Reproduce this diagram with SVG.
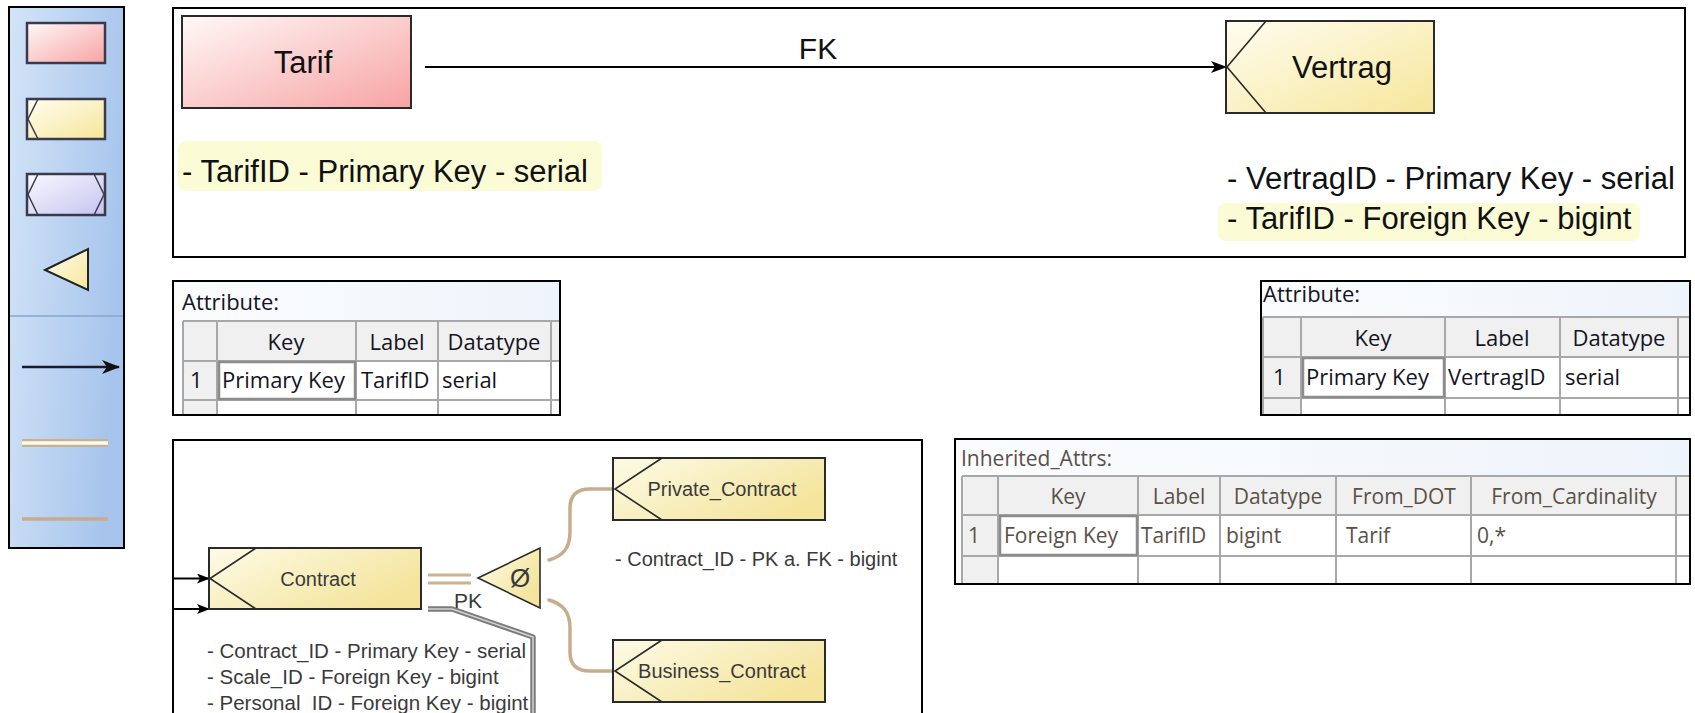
<svg xmlns="http://www.w3.org/2000/svg" width="1695" height="713" viewBox="0 0 1695 713">
<defs>
<style>
.dg{font-family:"Liberation Sans",Arial,sans-serif;fill:#111}
.lo{font-family:"Liberation Sans",Arial,sans-serif;fill:#3a3a3a}
.tb{font-family:"Open Sans","Noto Sans",sans-serif;font-size:22px;fill:#141424}
.tbi{font-family:"Open Sans","Noto Sans",sans-serif;font-size:21px;fill:#5a5048}
.frame{fill:#fff;stroke:#000;stroke-width:2}
.ent{stroke:#2a2a2a;stroke-width:2}
.chev{fill:none;stroke:#2a2a2a;stroke-width:1.6}
.grid{stroke:#a8a8a8;stroke-width:2;fill:none}
.hdr{fill:#f0f0f0}
.tan{fill:none;stroke:#c8ad8c;stroke-width:3.5;stroke-linecap:round}
</style>
<linearGradient id="gPal" x1="0" y1="0" x2="1" y2="0.3"><stop offset="0" stop-color="#d3e4f8"/><stop offset="1" stop-color="#a7c5ec"/></linearGradient>
<linearGradient id="gRed" x1="0" y1="0" x2="1" y2="1"><stop offset="0" stop-color="#fff8f8"/><stop offset="1" stop-color="#f7a3a3"/></linearGradient>
<linearGradient id="gYel" x1="0" y1="0" x2="1" y2="1"><stop offset="0" stop-color="#fffdf0"/><stop offset="1" stop-color="#f6e69a"/></linearGradient>
<linearGradient id="gYel2" x1="0" y1="0" x2="1" y2="0.6"><stop offset="0" stop-color="#fdfbe6"/><stop offset="1" stop-color="#f4e49c"/></linearGradient>
<linearGradient id="gPur" x1="0" y1="0" x2="1" y2="1"><stop offset="0" stop-color="#faf8ff"/><stop offset="1" stop-color="#c4c4f0"/></linearGradient>
<linearGradient id="gTitle" x1="0" y1="0" x2="1" y2="0"><stop offset="0" stop-color="#fbfcfe"/><stop offset="1" stop-color="#eef4fb"/></linearGradient>
<marker id="arrBig" viewBox="0 0 16 12" refX="15" refY="6" markerWidth="16" markerHeight="12" markerUnits="userSpaceOnUse" orient="auto"><path d="M0,0 L16,6 L0,12 L4,6 z" fill="#000"/></marker>
<marker id="arrSm" viewBox="0 0 13 10" refX="12" refY="5" markerWidth="13" markerHeight="10" markerUnits="userSpaceOnUse" orient="auto"><path d="M0,0 L13,5 L0,10 L3,5 z" fill="#000"/></marker>
<marker id="arrPal" viewBox="0 0 18 14" refX="17" refY="7" markerWidth="18" markerHeight="14" markerUnits="userSpaceOnUse" orient="auto"><path d="M0,0 L18,7 L0,14 L5,7 z" fill="#111"/></marker>
</defs>
<rect width="1695" height="713" fill="#fff"/>

<!-- Palette -->
<g id="palette">
<rect x="9" y="7" width="115" height="541" fill="url(#gPal)" stroke="#000" stroke-width="2"/>
<rect x="27" y="23" width="78" height="40" fill="url(#gRed)" stroke="#3a3a4a" stroke-width="2.5"/>
<rect x="27" y="99" width="78" height="40" fill="url(#gYel)" stroke="#3a3a4a" stroke-width="2.5"/>
<path d="M38,99 L28,119 L38,139" fill="none" stroke="#3a3a4a" stroke-width="1.5"/>
<rect x="27" y="174" width="78" height="41" fill="url(#gPur)" stroke="#3a3a4a" stroke-width="2.5"/>
<path d="M38,174 L28,194.5 L38,215 M94,174 L104,194.5 L94,215" fill="none" stroke="#3a3a4a" stroke-width="1.5"/>
<polygon points="45,270 88,249 88,290" fill="url(#gYel)" stroke="#222" stroke-width="2"/>
<line x1="10" y1="316" x2="123" y2="316" stroke="#86a6cc" stroke-width="1.5"/>
<line x1="22" y1="367" x2="119" y2="367" stroke="#1a1a2a" stroke-width="2.5" marker-end="url(#arrPal)"/>
<line x1="22" y1="443" x2="108" y2="443" stroke="#c9b08f" stroke-width="8"/>
<line x1="22" y1="443" x2="108" y2="443" stroke="#fffbee" stroke-width="3.5"/>
<line x1="22" y1="519" x2="108" y2="519" stroke="#c9ab88" stroke-width="3.5"/>
</g>

<!-- Top diagram -->
<g id="frame-top"><rect class="frame" x="173" y="8" width="1512" height="249"/></g>
<g id="connectors-top">
<line x1="425" y1="67" x2="1226" y2="67" stroke="#000" stroke-width="2" marker-end="url(#arrBig)"/>
<text class="dg" x="818" y="59" font-size="30" text-anchor="middle">FK</text>
</g>
<g id="node-tarif">
<rect class="ent" x="182" y="16" width="229" height="92" fill="url(#gRed)"/>
<text class="dg" x="303" y="73" font-size="31" text-anchor="middle">Tarif</text>
<rect x="178" y="141" width="424" height="50" rx="8" fill="#fbfbd6"/>
<text class="dg" x="182" y="182" font-size="31">- TarifID - Primary Key - serial</text>
</g>
<g id="node-vertrag">
<rect class="ent" x="1226" y="21" width="208" height="92" fill="url(#gYel)"/>
<path class="chev" d="M1266,21 L1227,67 L1266,113"/>
<text class="dg" x="1342" y="78" font-size="31" text-anchor="middle">Vertrag</text>
<text class="dg" x="1227" y="189" font-size="31">- VertragID - Primary Key - serial</text>
<rect x="1218" y="203" width="422" height="38" rx="8" fill="#fbfbd6"/>
<text class="dg" x="1227" y="229" font-size="31">- TarifID - Foreign Key - bigint</text>
</g>

<!-- Attribute table left -->
<g id="table-tarif">
<rect x="173" y="281" width="387" height="134" fill="url(#gTitle)" stroke="#000" stroke-width="2"/>
<text class="tb" x="182" y="310">Attribute:</text>
<rect x="183" y="321" width="376" height="93" fill="#fff"/>
<rect class="hdr" x="183" y="321" width="376" height="40"/>
<rect class="hdr" x="183" y="361" width="34" height="53"/>
<path class="grid" d="M183,321 H559 M183,361 H559 M183,400 H559 M183,321 V414 M217,321 V414 M356,321 V414 M438,321 V414 M551,321 V414"/>
<rect x="219" y="362" width="136" height="37" fill="none" stroke="#8c8c8c" stroke-width="2.5"/>
<text class="tb" x="286" y="350" text-anchor="middle">Key</text>
<text class="tb" x="397" y="350" text-anchor="middle">Label</text>
<text class="tb" x="494" y="350" text-anchor="middle">Datatype</text>
<text class="tb" x="190" y="388">1</text>
<text class="tb" x="222" y="388">Primary Key</text>
<text class="tb" x="361" y="388">TarifID</text>
<text class="tb" x="442" y="388">serial</text>
</g>

<!-- Attribute table right -->
<g id="table-vertrag">
<rect x="1261" y="281" width="429" height="134" fill="url(#gTitle)" stroke="#000" stroke-width="2"/>
<text class="tb" x="1263" y="302">Attribute:</text>
<rect x="1263" y="317" width="426" height="97" fill="#fff"/>
<rect class="hdr" x="1263" y="317" width="426" height="40"/>
<rect class="hdr" x="1263" y="357" width="38" height="57"/>
<path class="grid" d="M1263,317 H1689 M1263,357 H1689 M1263,398 H1689 M1263,317 V414 M1301,317 V414 M1445,317 V414 M1560,317 V414 M1678,317 V414"/>
<rect x="1303" y="358" width="141" height="39" fill="none" stroke="#8c8c8c" stroke-width="2.5"/>
<text class="tb" x="1373" y="346" text-anchor="middle">Key</text>
<text class="tb" x="1502" y="346" text-anchor="middle">Label</text>
<text class="tb" x="1619" y="346" text-anchor="middle">Datatype</text>
<text class="tb" x="1273" y="385">1</text>
<text class="tb" x="1306" y="385">Primary Key</text>
<text class="tb" x="1448" y="385">VertragID</text>
<text class="tb" x="1565" y="385">serial</text>
</g>

<!-- Inherited attributes table -->
<g id="table-inherited">
<rect x="955" y="439" width="735" height="145" fill="url(#gTitle)" stroke="#000" stroke-width="2"/>
<text class="tbi" x="961" y="466">Inherited_Attrs:</text>
<rect x="962" y="476" width="727" height="107" fill="#fff"/>
<rect class="hdr" x="962" y="476" width="727" height="39"/>
<rect class="hdr" x="962" y="515" width="36" height="68"/>
<path class="grid" d="M962,476 H1689 M962,515 H1689 M962,556 H1689 M962,476 V583 M998,476 V583 M1138,476 V583 M1220,476 V583 M1336,476 V583 M1471,476 V583 M1676,476 V583"/>
<rect x="1000" y="516" width="137" height="39" fill="none" stroke="#8c8c8c" stroke-width="2.5"/>
<text class="tbi" x="1068" y="504" text-anchor="middle">Key</text>
<text class="tbi" x="1179" y="504" text-anchor="middle">Label</text>
<text class="tbi" x="1278" y="504" text-anchor="middle">Datatype</text>
<text class="tbi" x="1404" y="504" text-anchor="middle">From_DOT</text>
<text class="tbi" x="1574" y="504" text-anchor="middle">From_Cardinality</text>
<text class="tbi" x="968" y="543">1</text>
<text class="tbi" x="1004" y="543">Foreign Key</text>
<text class="tbi" x="1141" y="543">TarifID</text>
<text class="tbi" x="1226" y="543">bigint</text>
<text class="tbi" x="1346" y="543">Tarif</text>
<text class="tbi" x="1477" y="543">0,*</text>
</g>

<!-- Lower-left diagram -->
<g id="frame-bottom"><rect class="frame" x="173" y="440" width="749" height="290"/></g>
<g id="connectors-bottom">
<line x1="174" y1="578.5" x2="209" y2="578.5" stroke="#000" stroke-width="2" marker-end="url(#arrSm)"/>
<line x1="174" y1="609" x2="209" y2="609" stroke="#000" stroke-width="2" marker-end="url(#arrSm)"/>
<line x1="428" y1="575" x2="471" y2="575" stroke="#cbb292" stroke-width="3"/>
<line x1="428" y1="583" x2="471" y2="583" stroke="#cbb292" stroke-width="3"/>
<polyline points="428,609 452,609 533,637 533,720" fill="none" stroke="#7c7c7c" stroke-width="5.5" stroke-linejoin="round"/>
<polyline points="428,609 452,609 533,637 533,720" fill="none" stroke="#d2d2d2" stroke-width="1.5" stroke-linejoin="round"/>
<text class="lo" x="454" y="608" font-size="21">PK</text>
<path class="tan" d="M549,560 C563,556 570,548 570,532 L570,508 C570,495 577,489 590,489 L612,489"/>
<path class="tan" d="M549,600 C563,604 570,612 570,628 L570,652 C570,665 577,671 590,671 L612,671"/>
</g>
<g id="node-contract">
<rect class="ent" x="209" y="548" width="212" height="61" fill="url(#gYel2)"/>
<path class="chev" d="M256,548 L210,578.5 L256,609"/>
<text class="lo" x="318" y="586" font-size="20" text-anchor="middle">Contract</text>
<text class="lo" x="207" y="658" font-size="20.5">- Contract_ID - Primary Key - serial</text>
<text class="lo" x="207" y="684" font-size="20.5">- Scale_ID - Foreign Key - bigint</text>
<text class="lo" x="207" y="710" font-size="20.5">- Personal_ID - Foreign Key - bigint</text>
</g>
<g id="node-isa">
<polygon points="478,578 540,548 540,608" fill="url(#gYel2)" stroke="#2a2a2a" stroke-width="1.6"/>
<text class="lo" x="520" y="587" font-size="26" text-anchor="middle">Ø</text>
</g>
<g id="node-private">
<rect class="ent" x="613" y="458" width="212" height="62" fill="url(#gYel2)"/>
<path class="chev" d="M662,458 L615,489 L662,520"/>
<text class="lo" x="722" y="496" font-size="20" text-anchor="middle">Private_Contract</text>
<text class="lo" x="615" y="566" font-size="20">- Contract_ID - PK a. FK - bigint</text>
</g>
<g id="node-business">
<rect class="ent" x="613" y="640" width="212" height="62" fill="url(#gYel2)"/>
<path class="chev" d="M662,640 L615,671 L662,702"/>
<text class="lo" x="722" y="678" font-size="20" text-anchor="middle">Business_Contract</text>
</g>
</svg>
